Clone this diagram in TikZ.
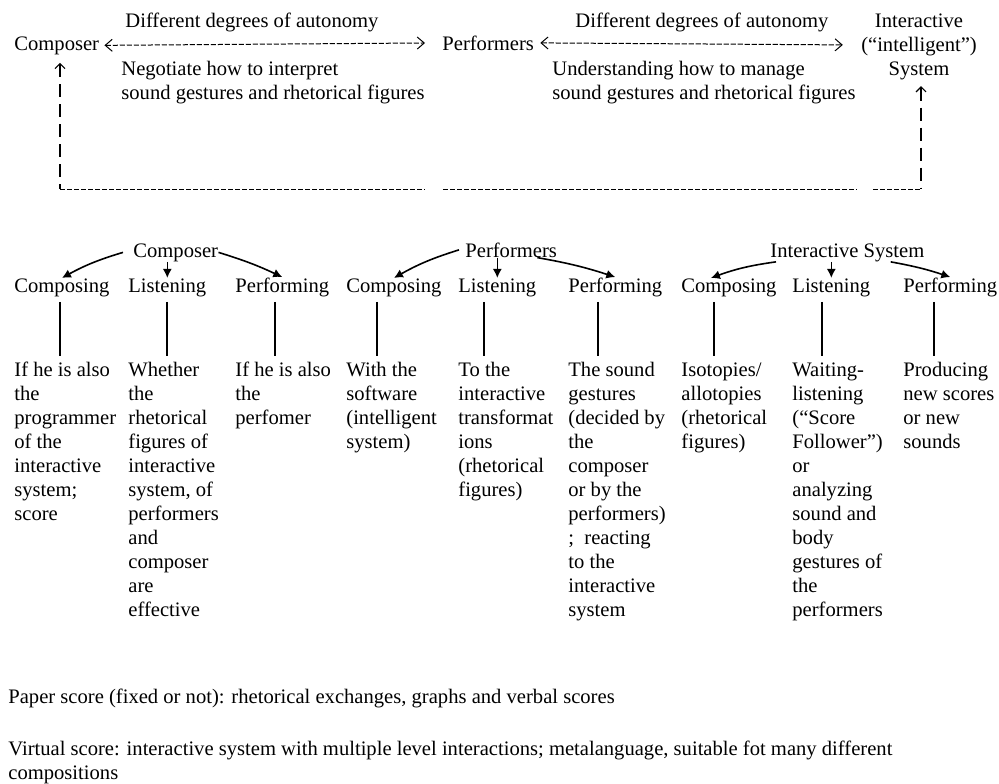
\documentclass[tikz,border=0pt]{standalone}
\usepackage{fontspec}
\setmainfont{Liberation Serif}
\usetikzlibrary{arrows.meta, positioning}
\tikzset{
    txt/.style={
        inner sep=0pt, anchor=base west
    },
    blk/.style={
        inner sep=0pt, anchor=north west, align=left
    },
    typed/.style={
        line width=0.5pt, dash pattern={on 2.6pt off 0.9pt}
    },
    pipes/.style={
        line width=0.6pt, dash pattern={on 6.5pt off 3.5pt}
    },
    chev/.style={
        {Straight Barb[length=3.5pt, width=6pt]}-{Straight Barb[length=3.5pt, width=6pt]}
    },
    caret/.style={
        {Straight Barb[length=2.5pt, width=5pt]}-
    },
    hand/.style={
        line width=0.8pt, -{Latex[length=4.5pt, width=4.5pt]}
    },
    drop/.style={
        line width=0.6pt, shorten <=2.5pt, shorten >=1.5pt
    }
}

\begin{document}
\begin{tikzpicture}[x=0.5pt, y=-0.5pt, font=\fontsize{10.3pt}{12pt}\selectfont]
        \useasboundingbox (0,0) rectangle (999,783);

        % top: the three actors
        \node[txt] (autoL) at (125,27) {Different degrees of autonomy};
        \node[txt] (autoR) at (575,27) {Different degrees of autonomy};
        \node[txt] (cmp)   at (14,50)  {Composer};
        \node[txt] (prf)   at (442,50) {Performers};
        \node[inner sep=0pt, anchor=north, align=center] (isys) at (919,10) {\strut Interactive\\(“intelligent”)\\System};

        \node[blk] (nego)  at (121,58) {\strut Negotiate how to interpret\\sound gestures and rhetorical figures};
        \node[blk] (under) at (552,58) {\strut Understanding how to manage\\sound gestures and rhetorical figures};

        \draw[typed, chev, shorten <=2.5pt, shorten >=8.5pt] (cmp.east) -- (prf.west);
        \draw[typed, chev, shorten <=3pt, shorten >=9pt] (prf.east) -- (isys.west);

        \coordinate (bl) at (60,189);
        \coordinate (br) at (921,189);
        \coordinate (gapA) at (425,189);
        \coordinate (gapB) at (443,189);
        \coordinate (gapC) at (857,189);
        \coordinate (gapD) at (873,189);

        \draw[pipes, caret, shorten <=4pt] (cmp.south -| bl) -- (bl);
        \draw[pipes, caret, shorten <=3pt] (isys.south -| br) -- (br);
        \draw[typed] (bl) -- (gapA);
        \draw[typed] (gapB) -- (gapC);
        \draw[typed] (gapD) -- (br);

        % middle: what each one does
        \node[txt] (hcmp) at (133,257) {Composer};
        \node[txt] (hprf) at (465,257) {Performers};
        \node[txt] (hsys) at (770,257) {Interactive System};

        \node[txt] (cpA) at (14,292)  {Composing};
        \node[txt] (lsA) at (128,292) {Listening};
        \node[txt] (pfA) at (235,292) {Performing};
        \node[txt] (cpB) at (346,292) {Composing};
        \node[txt] (lsB) at (458,292) {Listening};
        \node[txt] (pfB) at (568,292) {Performing};
        \node[txt] (cpC) at (681,292) {Composing};
        \node[txt] (lsC) at (792,292) {Listening};
        \node[txt] (pfC) at (903,292) {Performing};

        \path ([xshift=-5pt]hcmp.west) edge[hand, bend right=6] (cpA.north)
                (lsA.north |- hcmp.south) edge[hand] (lsA.north)
                (hcmp.east) edge[hand, bend left=4] (pfA.north)
                ([xshift=-3pt]hprf.west) edge[hand, bend right=6] (cpB.north)
                (lsB.north |- hprf.south) edge[hand] (lsB.north)
                ([xshift=-10pt]hprf.south east) edge[hand, bend left=4] (pfB.north)
                ([xshift=3pt]hsys.south west) edge[hand, bend right=6] ([xshift=-9pt]cpC.north)
                (lsC.north |- hsys.south) edge[hand] (lsC.north)
                ([xshift=-17pt]hsys.south east) edge[hand, bend left=4] (pfC.north);

        \node[blk] (cpAtx) at (14,359)  {\strut If he is also\\the\\programmer\\of the\\interactive\\system;\\score};
        \node[blk] (lsAtx) at (128,359) {\strut Whether\\the\\rhetorical\\figures of\\interactive\\system, of\\performers\\and\\composer\\are\\effective};
        \node[blk] (pfAtx) at (235,359) {\strut If he is also\\the\\perfomer};
        \node[blk] (cpBtx) at (346,359) {\strut With the\\software\\(intelligent\\system)};
        \node[blk] (lsBtx) at (458,359) {\strut To the\\interactive\\transformat\\ions\\(rhetorical\\figures)};
        \node[blk] (pfBtx) at (568,359) {\strut The sound\\gestures\\(decided by\\the\\composer\\or by the\\performers)\\;\ \ reacting\\to the\\interactive\\system};
        \node[blk] (cpCtx) at (681,359) {\strut Isotopies/\\allotopies\\(rhetorical\\figures)};
        \node[blk] (lsCtx) at (792,359) {\strut Waiting-\\listening\\(“Score\\Follower”)\\or\\analyzing\\sound and\\body\\gestures of\\the\\performers};
        \node[blk] (pfCtx) at (903,359) {\strut Producing\\new scores\\or new\\sounds};

        \draw[drop] ([xshift=23pt]cpA.south west) -- ([xshift=23pt]cpAtx.north west);
        \draw[drop] ([xshift=19.5pt]lsA.south west) -- ([xshift=19.5pt]lsAtx.north west);
        \draw[drop] ([xshift=20pt]pfA.south west) -- ([xshift=20pt]pfAtx.north west);
        \draw[drop] ([xshift=15.5pt]cpB.south west) -- ([xshift=15.5pt]cpBtx.north west);
        \draw[drop] ([xshift=13pt]lsB.south west) -- ([xshift=13pt]lsBtx.north west);
        \draw[drop] ([xshift=15pt]pfB.south west) -- ([xshift=15pt]pfBtx.north west);
        \draw[drop] ([xshift=16.5pt]cpC.south west) -- ([xshift=16.5pt]cpCtx.north west);
        \draw[drop] ([xshift=15pt]lsC.south west) -- ([xshift=15pt]lsCtx.north west);
        \draw[drop] ([xshift=15.5pt]pfC.south west) -- ([xshift=15.5pt]pfCtx.north west);

        % bottom notes
        \node[txt] (paper) at (8,703) {Paper score (fixed or not): rhetorical exchanges, graphs and verbal scores};
        \node[blk] (virtual) at (8,738) {\strut Virtual score: interactive system with multiple level interactions; metalanguage, suitable fot many different\\compositions};
\end{tikzpicture}
\end{document}
